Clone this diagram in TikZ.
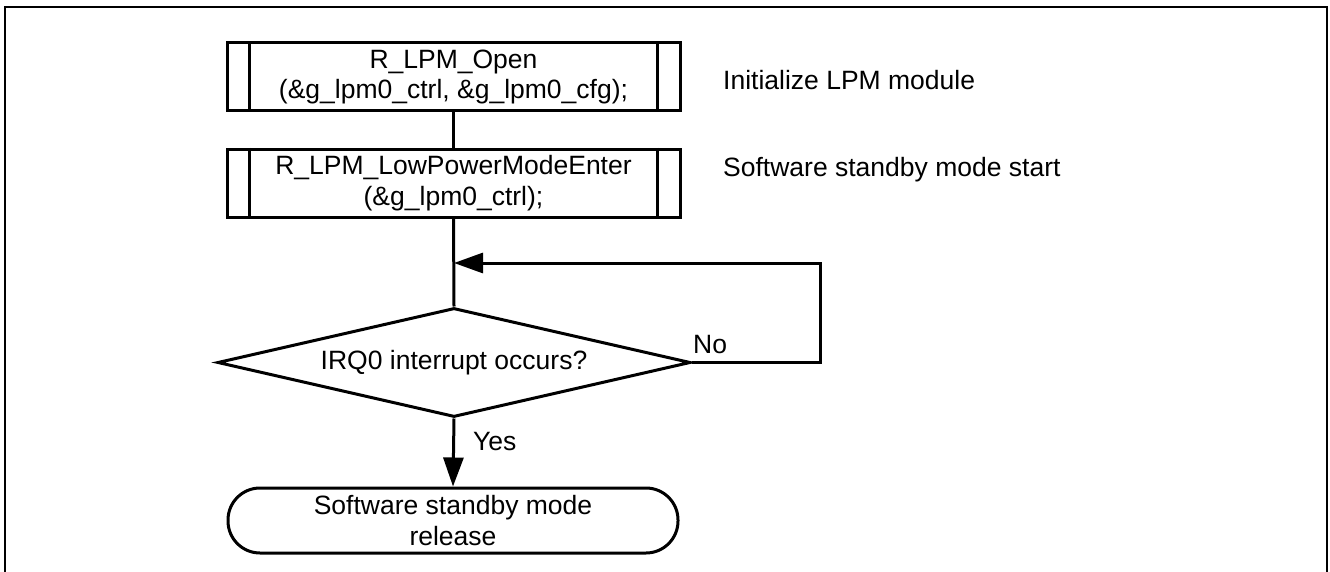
\documentclass[tikz,border=0pt]{standalone}
\usepackage{fontspec}
\setmainfont{Liberation Sans}
\usetikzlibrary{shapes.geometric,arrows.meta}
\begin{document}
\begin{tikzpicture}[x=1pt,y=-1pt,
  every node/.style={font=\fontsize{26.5}{31}\selectfont},
  line/.style={line width=3pt},
  arr/.style={line width=3pt,-{Triangle[length=29pt,width=20pt]}},
  procbox/.style={draw,line width=3pt,rectangle,minimum width=453pt,minimum height=68pt,inner sep=0pt,align=center},
  decision/.style={draw,line width=3pt,diamond,minimum width=473pt,minimum height=109pt,inner sep=0pt,aspect=4.34},
  terminal/.style={draw,line width=3pt,rectangle,rounded corners=32pt,minimum width=450pt,minimum height=65pt,inner sep=0pt,align=center},
  note/.style={anchor=base west,inner sep=0pt}]
\useasboundingbox (0,0) rectangle (1330,572);

% outer frame (open at the bottom)
\draw[line,line width=2.6pt] (5,575) -- (5,7) -- (1327,7) -- (1327,575);

% predefined-process boxes
\node[procbox] (open) at (453.5,77) {R\_LPM\_Open\\(\&g\_lpm0\_ctrl, \&g\_lpm0\_cfg);};
\node[procbox] (enter) at (453.5,183.5) {R\_LPM\_LowPowerModeEnter\\(\&g\_lpm0\_ctrl);};
\foreach \b in {open,enter}{
  \draw[line] ([xshift=24pt]\b.north west) -- ([xshift=24pt]\b.south west);
  \draw[line] ([xshift=-24pt]\b.north east) -- ([xshift=-24pt]\b.south east);
}

% decision and terminal
\node[decision] (irq) at (454,362.5) {IRQ0 interrupt occurs?};
\node[terminal] (rel) at (453,520.5) {Software standby mode\\release};

% side comments
\node[note] (c1) at (723,90) {Initialize LPM module};
\node[note] (c2) at (723,177) {Software standby mode start};

% connectors
\coordinate (join) at (454,263);
\coordinate (loopr) at (820,263);
\draw[line] (open.south) -- (enter.south |- open.south) -- (enter.north);
\draw[line] (enter.south) -- (irq.north);
\draw[arr] (irq.east) -| (loopr) -- (join);
\draw[arr] (irq.south) -- (rel.north);

% branch labels
\node[note] (no) at (693,353) {No};
\node[note] (yes) at (473,450) {Yes};
\end{tikzpicture}
\end{document}
